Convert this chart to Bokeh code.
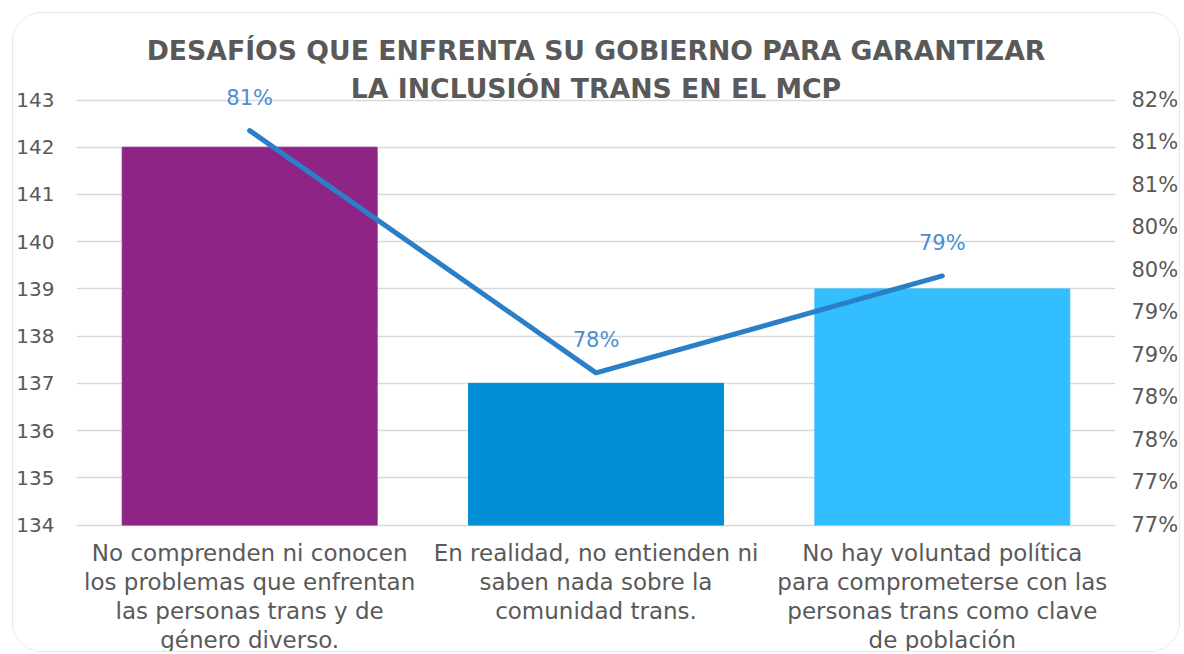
from bokeh.plotting import figure
from bokeh.models import (Range1d, LinearAxis, FixedTicker, Label, LabelSet,
                          ColumnDataSource, FactorRange)
from bokeh.core.properties import value
from bokeh.embed import file_html
from bokeh.resources import INLINE

categories = [
    "No comprenden ni conocen\nlos problemas que enfrentan\nlas personas trans y de\ngénero diverso.",
    "En realidad, no entienden ni\nsaben nada sobre la\ncomunidad trans.",
    "No hay voluntad política\npara comprometerse con las\npersonas trans como clave\nde población",
]
counts = [142, 137, 139]
percents = [0.8114, 0.7829, 0.7943]
pct_labels = ["81%", "78%", "79%"]
bar_colors = ["#8E2586", "#008FD5", "#33BEFF"]
left_ticks = [134, 135, 136, 137, 138, 139, 140, 141, 142, 143]
right_ticks = [0.765, 0.77, 0.775, 0.78, 0.785, 0.79, 0.795, 0.80, 0.805, 0.81, 0.815]
right_tick_labels = ["77%", "77%", "78%", "78%", "79%", "79%", "80%", "80%", "81%", "81%", "82%"]
title_lines = ["DESAFÍOS QUE ENFRENTA SU GOBIERNO PARA GARANTIZAR",
               "LA INCLUSIÓN TRANS EN EL MCP"]

FONT = "DejaVu Sans"
GREY = "#595959"

W, H = 1168, 640
# frame spans the full canvas height; ranges extended so ticks land where the reference has them
p = figure(width=W, height=H, x_range=FactorRange(*categories),
           y_range=Range1d(131.279, 144.832), output_backend="svg", toolbar_location=None,
           min_border_left=62, min_border_right=63, min_border_top=0, min_border_bottom=0)
p.styles = {"margin-left": "12px", "margin-top": "12px",
            "border": "1.5px solid #E1E8F0", "border-radius": "30px", "overflow": "hidden"}
p.background_fill_color = "white"
p.border_fill_color = "white"
p.outline_line_color = None
p.extra_y_ranges = {"pct": Range1d(0.749882, 0.825176)}

src = ColumnDataSource(dict(cat=categories, cnt=counts, col=bar_colors,
                            pct=percents, lab=pct_labels))
p.vbar(x="cat", top="cnt", bottom=left_ticks[0], width=0.736, color="col", source=src)
p.line(x="cat", y="pct", y_range_name="pct", line_color="#2B7FC6", line_width=5,
       line_cap="round", line_join="round", source=src)
p.add_layout(LabelSet(x="cat", y="pct", text="lab", y_range_name="pct", source=src,
                      y_offset=33, text_align="center", text_baseline="middle",
                      text_font=value(FONT), text_font_size="21px", text_color="#4A90D0"))

# category labels under the bars, one row per text line so each line is centred
lx, ly, lt, lo = [], [], [], []
for c in categories:
    for k, line in enumerate(c.split("\n")):
        lx.append(c)
        ly.append(left_ticks[0])
        lt.append(line)
        lo.append(-15 - 29 * k)
lsrc = ColumnDataSource(dict(x=lx, y=ly, t=lt, o=lo))
p.add_layout(LabelSet(x="x", y="y", text="t", y_offset="o", source=lsrc,
                      text_align="center", text_baseline="top",
                      text_font=value(FONT), text_font_size="23px", text_color=GREY))

# left axis
ax = p.yaxis[0]
ax.ticker = FixedTicker(ticks=left_ticks)
ax.axis_line_color = None
ax.major_tick_line_color = None
ax.minor_tick_line_color = None
ax.major_label_text_font = FONT
ax.major_label_text_font_size = "20px"
ax.major_label_text_color = GREY
ax.major_label_standoff = 16

# right axis
rax = LinearAxis(y_range_name="pct", ticker=FixedTicker(ticks=right_ticks),
                 major_label_overrides={t: l for t, l in zip(right_ticks, right_tick_labels)})
rax.axis_line_color = None
rax.major_tick_line_color = None
rax.minor_tick_line_color = None
rax.major_label_text_font = FONT
rax.major_label_text_font_size = "21px"
rax.major_label_text_color = GREY
rax.major_label_standoff = 10
p.add_layout(rax, "right")

p.xaxis.visible = False
p.xgrid.grid_line_color = None
p.ygrid.grid_line_color = "#D9D9D9"
p.ygrid.grid_line_width = 1.5
p.ygrid.ticker = FixedTicker(ticks=left_ticks)

mid_x = len(categories) / 2  # centre of the middle category on the factor axis
for i, off in enumerate([50, 12]):
    p.add_layout(Label(x=mid_x, y=left_ticks[-1], y_offset=off,
                       text=title_lines[i], text_align="center", text_baseline="middle",
                       text_font=FONT, text_font_style="bold", text_font_size="26.7px",
                       text_color=GREY))

open("out.html", "w").write(file_html(p, INLINE))
